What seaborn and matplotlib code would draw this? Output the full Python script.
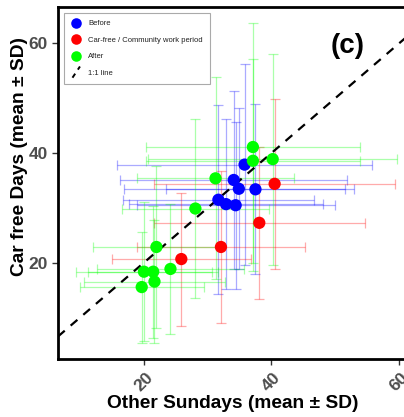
import matplotlib
matplotlib.use("Agg")
import matplotlib.pyplot as plt
import seaborn as sns
import pandas as pd
from matplotlib.lines import Line2D
from matplotlib.legend_handler import HandlerBase

# ---- data ----
groups = ["Before"] * 7 + ["Car-free / Community work period"] * 4 + ["After"] * 11
x_mean = [35.8, 34.1, 34.9, 37.5, 31.7, 32.9, 34.4,
          40.5, 38.1, 32.1, 25.9,
          37.1, 37.1, 40.2, 31.25, 28.1, 22.0, 20.05, 21.5, 24.2, 21.7, 19.7]
x_sd = [20.0, 17.8, 18.0, 14.0, 15.0, 15.2, 15.5,
        18.8, 16.5, 13.2, 10.9,
        16.8, 16.7, 19.5, 12.3, 11.5, 10.0, 10.7, 10.2, 11.5, 11.0, 9.7]
y_mean = [37.9, 35.1, 33.5, 33.4, 31.5, 30.7, 30.5,
          34.4, 27.3, 22.9, 20.7,
          41.1, 38.6, 38.9, 35.4, 29.9, 22.9, 18.4, 18.4, 18.9, 16.6, 15.6]
y_sd = [18.3, 16.2, 14.7, 15.5, 17.2, 15.5, 15.2,
        15.5, 13.8, 13.9, 12.1,
        22.6, 18.6, 19.2, 18.4, 16.3, 14.7, 12.7, 12.0, 11.9, 11.2, 10.1]

palette = {"Before": "#0000FF",
           "Car-free / Community work period": "#FF0000",
           "After": "#00FF00"}
xticks = [20, 40, 60]
yticks = [20, 40, 60]

df = pd.DataFrame({"group": groups, "x": x_mean, "xsd": x_sd,
                   "y": y_mean, "ysd": y_sd})

sns.set_theme(style="white")
plt.rcParams["font.family"] = ["Liberation Sans", "DejaVu Sans"]

fig = plt.figure(figsize=(4.04, 4.17), dpi=100)
ax_w = (412 - 58) / 404
ax = fig.add_axes([58 / 404, (417 - 359) / 417, ax_w, (359 - 7) / 417])

for _, r in df.iterrows():
    ax.errorbar(r["x"], r["y"], xerr=r["xsd"], yerr=r["ysd"], fmt="none",
                ecolor=palette[r["group"]], elinewidth=0.9, capsize=3.5,
                capthick=0.9, alpha=0.33, zorder=2)

ax.axline((0, 0), slope=1, color="black", linestyle=(0, (4, 3.5)),
          linewidth=1.6, zorder=3)

sns.scatterplot(data=df, x="x", y="y", hue="group", palette=palette,
                s=78, edgecolor="none", linewidth=0, legend=False,
                ax=ax, zorder=4)

ax.set_xlim(6.6, 62)
ax.set_ylim(2.5, 66.6)
ax.set_xticks(xticks)
ax.set_yticks(yticks)
ax.tick_params(axis="both", which="major", direction="out", length=4,
               width=1, color="#333333", labelsize=12.5, labelcolor="#4D4D4D",
               bottom=True, left=True)
for lab in ax.get_xticklabels() + ax.get_yticklabels():
    lab.set_fontweight("bold")
for lab in ax.get_xticklabels():
    lab.set_rotation(45)

for s in ["left", "bottom", "top", "right"]:
    ax.spines[s].set_color("black")
    ax.spines[s].set_linewidth(2.0)

ax.set_xlabel("Other Sundays (mean ± SD)", fontsize=13.8, fontweight="bold",
              color="black")
ax.set_ylabel("Car free Days (mean ± SD)", fontsize=13.8, fontweight="bold",
              color="black")
ax.xaxis.set_label_coords((233 - 58) / (ax_w * 404), -(395 - 359) / 352)
ax.yaxis.set_label_coords(-(58 - 28) / (ax_w * 404), (359 - 157) / 352)


class DiagHandler(HandlerBase):
    def create_artists(self, legend, orig_handle, xdescent, ydescent,
                       width, height, fontsize, trans):
        x0 = -xdescent + width * 0.15
        x1 = -xdescent + width * 0.85
        y0 = -ydescent - height * 0.55
        y1 = -ydescent + height * 1.55
        ln = Line2D([x0, x1], [y0, y1], color="black", linewidth=1.4,
                    linestyle=(0, (2.5, 2.5)))
        ln.set_transform(trans)
        return [ln]


handles = [Line2D([], [], marker="o", linestyle="none", markersize=7.6,
                  markerfacecolor=palette[g], markeredgecolor="none")
           for g in ["Before", "Car-free / Community work period", "After"]]
line_handle = Line2D([], [], color="black")
handles.append(line_handle)
labels = ["Before", "Car-free / Community work period", "After", "1:1 line"]
leg = fig.legend(handles, labels, loc="upper left",
                 bbox_to_anchor=(64 / 404, 1 - 13 / 417),
                 bbox_transform=fig.transFigure, borderaxespad=0,
                 fontsize=5.5, frameon=True, fancybox=False,
                 edgecolor="#AAAAAA", framealpha=1, labelspacing=1.2,
                 handlelength=1.4, handletextpad=0.9, borderpad=0.9,
                 handler_map={line_handle: DiagHandler()})
leg.get_frame().set_linewidth(0.8)
for t in leg.get_texts():
    t.set_color("#222222")

fig.text(348 / 404, 1 - 46 / 417, "(c)", ha="center", va="center",
         fontsize=20, fontweight="bold", color="black")

fig.savefig("out.png", dpi=100)
